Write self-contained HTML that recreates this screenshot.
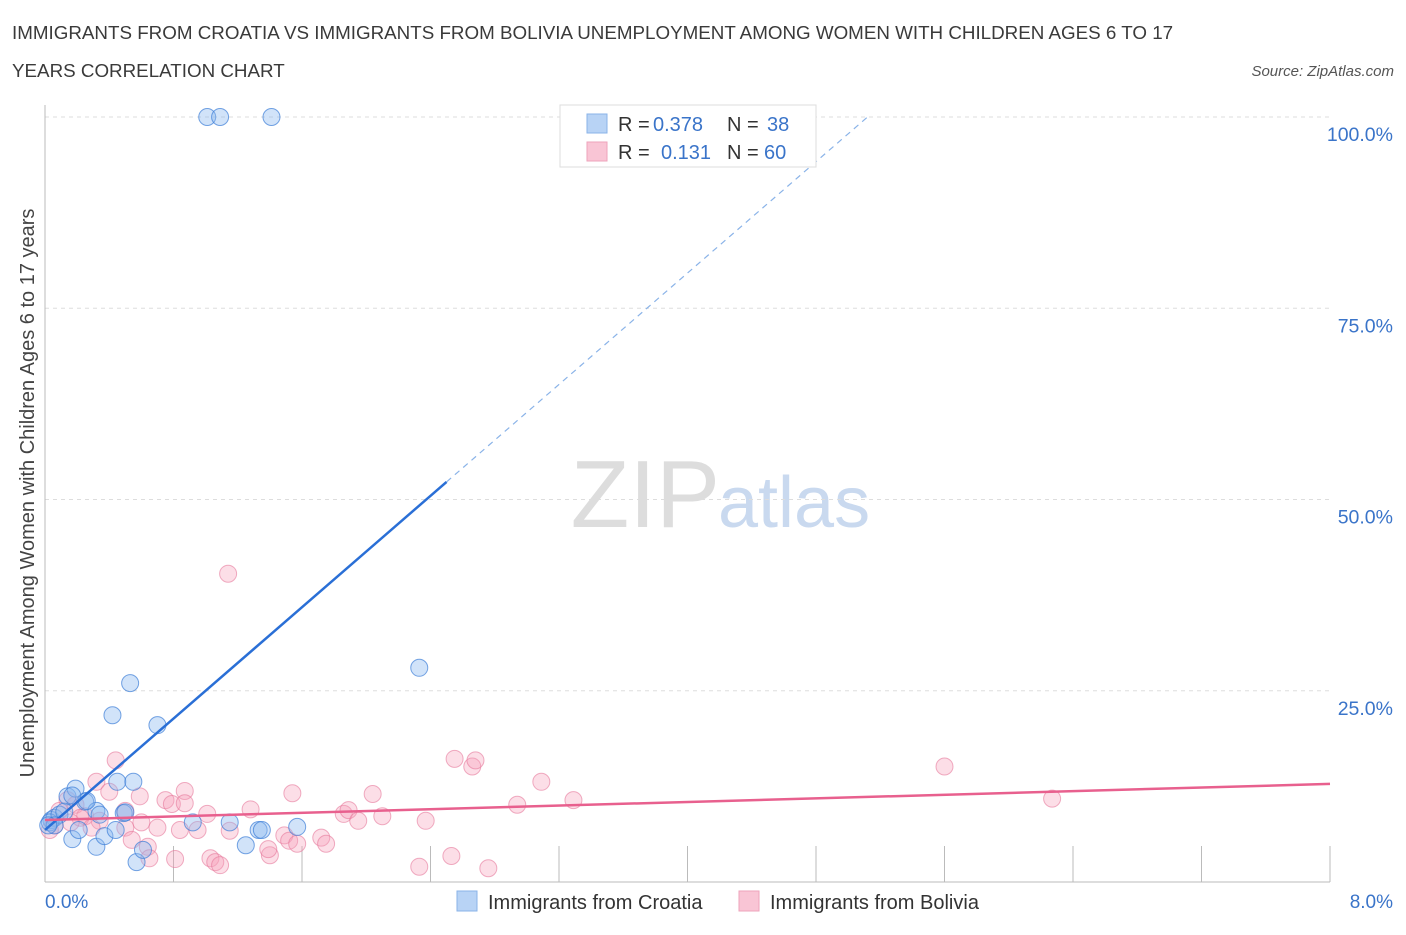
<!DOCTYPE html>
<html><head><meta charset="utf-8"><style>
body{margin:0;background:#fff;font-family:"Liberation Sans",sans-serif;}
svg text{font-family:"Liberation Sans",sans-serif;}
</style></head><body>
<svg id="chart" width="1406" height="930" xmlns="http://www.w3.org/2000/svg">
<text x="12" y="39" font-size="18.8" fill="#3a3a3a">IMMIGRANTS FROM CROATIA VS IMMIGRANTS FROM BOLIVIA UNEMPLOYMENT AMONG WOMEN WITH CHILDREN AGES 6 TO 17</text>
<text x="12" y="77" font-size="18.8" fill="#3a3a3a">YEARS CORRELATION CHART</text>
<text x="1394" y="76" font-size="15" fill="#555" text-anchor="end" font-style="italic">Source: ZipAtlas.com</text>
<text x="720" y="527" font-size="96" text-anchor="end" fill="#ddd" font-family="Liberation Serif">ZIP</text>
<text x="718" y="527" font-size="72" fill="#c9d9ef">atlas</text>
<g id="grid"></g>
<g id="axes"></g>
<g id="pts"></g>
<g id="lines"></g>
<text transform="translate(34,493) rotate(-90)" font-size="20" fill="#444" text-anchor="middle">Unemployment Among Women with Children Ages 6 to 17 years</text>
<text x="45" y="908" font-size="19" fill="#3a74c9">0.0%</text>
<text x="1393" y="908" font-size="19" fill="#3a74c9" text-anchor="end">8.0%</text>
<g>
<rect x="560" y="105" width="256" height="62" fill="#fff" stroke="#ddd"/>
<rect x="587" y="114" width="20" height="19" fill="#b8d3f5" stroke="#8ab3e8"/>
<rect x="587" y="142" width="20" height="19" fill="#f9c5d5" stroke="#eea3bb"/>
<text x="618" y="131" font-size="20" fill="#333">R =</text>
<text x="653" y="131" font-size="20" fill="#3a74c9">0.378</text>
<text x="727" y="131" font-size="20" fill="#333">N =</text>
<text x="767" y="131" font-size="20" fill="#3a74c9">38</text>
<text x="618" y="159" font-size="20" fill="#333">R =</text>
<text x="661" y="159" font-size="20" fill="#3a74c9">0.131</text>
<text x="727" y="159" font-size="20" fill="#333">N =</text>
<text x="764" y="159" font-size="20" fill="#3a74c9">60</text>
</g>
<g>
<rect x="457" y="891" width="20" height="20" fill="#b8d3f5" stroke="#8ab3e8"/>
<text x="488" y="909" font-size="20" fill="#333">Immigrants from Croatia</text>
<rect x="739" y="891" width="20" height="20" fill="#f9c5d5" stroke="#eea3bb"/>
<text x="770" y="909" font-size="20" fill="#333">Immigrants from Bolivia</text>
</g>
</svg>
<script>
const yTicks=[25,50,75,100];
const xTicks=[0,0.8,1.6,2.4,3.2,4.0,4.8,5.6,6.4,7.2,8.0];
const croatiaX=[1.01,1.09,1.41,2.33,0.53,0.42,0.70,0.04,0.06,0.03,0.09,0.14,0.19,0.25,0.32,0.17,0.21,0.32,0.37,0.44,0.45,0.55,0.49,0.50,0.57,0.61,0.92,1.15,1.25,1.33,1.35,1.57,0.06,0.12,0.26,0.34,0.17,0.02];
const croatiaY=[100,100,100,28.0,26.0,21.8,20.5,8.1,8.4,7.8,8.8,11.2,12.2,10.5,9.3,5.6,6.8,4.6,6.0,6.8,13.1,13.1,9.0,9.1,2.6,4.2,7.8,7.8,4.8,6.8,6.8,7.2,7.4,9.2,10.6,8.8,11.3,7.4];
const boliviaX=[1.14,0.44,0.32,2.55,2.66,2.68,3.09,3.29,2.94,5.60,6.27,0.87,1.54,2.04,0.14,0.19,0.40,0.50,0.59,0.75,0.79,0.87,1.01,1.28,1.86,1.89,1.95,2.10,2.37,0.84,0.95,0.50,0.60,0.70,1.15,1.49,1.52,1.57,1.72,1.75,0.54,0.64,1.03,1.06,1.09,1.40,1.39,0.65,0.81,2.33,2.53,2.76,0.34,0.25,0.09,0.06,0.03,0.22,0.29,0.16];
const boliviaY=[40.3,15.9,13.1,16.1,15.1,15.9,13.1,10.7,10.1,15.1,10.9,11.9,11.6,11.5,10.7,10.1,11.8,9.3,11.2,10.7,10.2,10.3,8.9,9.5,8.9,9.4,8.0,8.6,8.0,6.8,6.8,7.1,7.8,7.1,6.7,6.1,5.4,5.0,5.8,5.0,5.5,4.6,3.1,2.6,2.2,3.5,4.3,3.1,3.0,2.0,3.4,1.8,8.0,8.6,9.3,7.4,6.8,8.4,7.1,7.8];
const croatiaFit=[6.8,18.2]; // intercept, slope
const boliviaFit=[8.1,0.59];
const X0=45,X1=1330,Y0=882,YS=7.65;
const xs=v=>X0+v/8*(X1-X0), ys=v=>Y0-v*YS;
const NS="http://www.w3.org/2000/svg";
function mk(t,a,p){const e=document.createElementNS(NS,t);for(const k in a)e.setAttribute(k,a[k]);p.appendChild(e);return e;}
const grid=document.getElementById('grid'),axes=document.getElementById('axes'),pts=document.getElementById('pts'),lines=document.getElementById('lines');
yTicks.forEach(t=>{
 const l=mk('line',{x1:X0,x2:X1,y1:ys(t),y2:ys(t),stroke:'#ddd','stroke-dasharray':'4,4'},grid);
 
 
 const tx=mk('text',{x:1393,y:ys(t)+24,'font-size':19.5,fill:'#3a74c9','text-anchor':'end'},grid);
 tx.textContent=t.toFixed(1)+'%';
 
 
});
const xa=mk('line',{x1:X0,x2:X1,y1:Y0,y2:Y0,stroke:'#bbb'},axes);


const ya=mk('line',{x1:X0,x2:X0,y1:105,y2:Y0,stroke:'#bbb'},axes);


xTicks.forEach(t=>{
 const l=mk('line',{x1:xs(t),x2:xs(t),y1:Y0,y2:Y0-36,stroke:'#bbb'},axes);
 
 
});
boliviaX.forEach((x,i)=>{
 const c=mk('circle',{cx:xs(x),cy:ys(boliviaY[i]),r:8.5,fill:'rgba(245,160,185,0.35)',stroke:'rgba(230,120,155,0.6)'},pts);
 
 
});
croatiaX.forEach((x,i)=>{
 const c=mk('circle',{cx:xs(x),cy:ys(croatiaY[i]),r:8.5,fill:'rgba(140,185,240,0.4)',stroke:'rgba(60,125,215,0.7)'},pts);
 
 
});
const cs=mk('line',{x1:xs(0),y1:ys(croatiaFit[0]),x2:xs(2.5),y2:ys(croatiaFit[0]+croatiaFit[1]*2.5),stroke:'#2a6fd6','stroke-width':2.5},lines);


const xe=(100-croatiaFit[0])/croatiaFit[1];
const cd=mk('line',{x1:xs(2.5),y1:ys(croatiaFit[0]+croatiaFit[1]*2.5),x2:xs(xe),y2:ys(100),stroke:'#8ab3e8','stroke-width':1.2,'stroke-dasharray':'6,5'},lines);


const bl=mk('line',{x1:xs(0),y1:ys(boliviaFit[0]),x2:xs(8),y2:ys(boliviaFit[0]+boliviaFit[1]*8),stroke:'#e8608e','stroke-width':2.5},lines);


</script>
</body></html>
